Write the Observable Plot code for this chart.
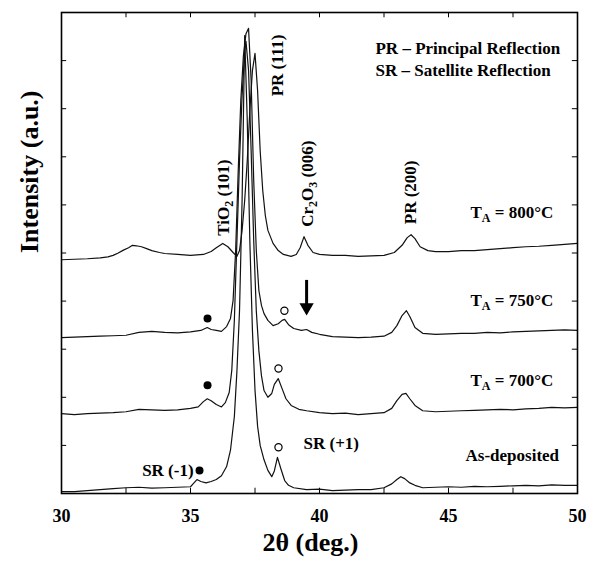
<!DOCTYPE html>
<html>
<head>
<meta charset="utf-8">
<script src="https://cdn.jsdelivr.net/npm/d3@7"></script>
<script src="https://cdn.jsdelivr.net/npm/@observablehq/plot@0.6"></script>
<style>
  body { margin: 0; background: #fff; }
  #chart svg { display: block; }
</style>
</head>
<body>
<div id="chart"></div>
<script>
// ---- data (2θ in degrees, intensity in arbitrary units) ----
const asDep2theta = [30.0,30.5,31.0,31.5,32.0,32.5,33.0,33.5,34.0,34.5,35.0,35.1,35.25,35.4,35.6,35.8,36.0,36.2,36.4,36.55,36.7,36.8,36.9,37.0,37.1,37.2,37.3,37.4,37.5,37.6,37.7,37.85,38.0,38.15,38.25,38.37,38.5,38.65,38.8,39.0,39.5,40.0,40.5,41.0,41.5,42.0,42.5,42.8,43.0,43.15,43.3,43.5,43.7,44.0,44.5,45.0,45.5,46.0,46.5,47.0,47.5,48.0,48.5,49.0,49.5,50.0];
const asDepI = [0.04,0.04,0.06,0.08,0.10,0.12,0.13,0.11,0.12,0.13,0.14,0.20,0.29,0.25,0.22,0.25,0.29,0.37,0.56,0.90,1.60,2.55,3.80,6.10,9.52,7.75,5.25,3.40,2.15,1.40,1.00,0.70,0.48,0.35,0.47,0.75,0.52,0.27,0.17,0.12,0.08,0.09,0.06,0.07,0.08,0.08,0.12,0.20,0.29,0.35,0.31,0.22,0.17,0.12,0.13,0.14,0.13,0.15,0.14,0.15,0.16,0.17,0.16,0.18,0.17,0.17];

const t700_2theta = [30.0,30.5,31.0,31.5,32.0,32.5,33.0,33.5,34.0,34.5,35.0,35.3,35.5,35.65,35.8,36.0,36.2,36.35,36.5,36.6,36.7,36.8,36.9,37.0,37.1,37.15,37.25,37.35,37.45,37.55,37.65,37.75,37.85,38.0,38.15,38.25,38.4,38.55,38.7,38.9,39.2,39.5,40.0,40.5,41.0,41.5,42.0,42.5,42.8,43.0,43.2,43.35,43.5,43.7,44.0,44.5,45.0,45.5,46.0,46.5,47.0,47.5,48.0,48.5,49.0,49.5,50.0];
const t700I = [1.66,1.64,1.66,1.67,1.68,1.70,1.75,1.74,1.73,1.74,1.77,1.80,1.91,1.97,1.93,1.85,1.80,1.89,2.10,2.56,3.60,5.26,6.92,8.27,9.20,9.40,8.80,7.13,5.26,3.80,2.97,2.45,2.14,2.00,2.08,2.27,2.39,2.18,1.97,1.83,1.75,1.72,1.68,1.66,1.67,1.64,1.66,1.68,1.77,1.93,2.06,2.08,1.97,1.83,1.72,1.70,1.71,1.72,1.73,1.74,1.75,1.74,1.76,1.77,1.79,1.78,1.79];

const t750_2theta = [30.0,30.5,31.0,31.5,32.0,32.5,33.0,33.5,34.0,34.5,35.0,35.4,35.65,35.8,36.0,36.2,36.4,36.55,36.65,36.75,36.85,36.95,37.05,37.15,37.25,37.35,37.45,37.55,37.65,37.75,37.85,38.0,38.2,38.4,38.55,38.65,38.8,39.0,39.3,39.5,39.7,40.0,40.5,41.0,41.5,42.0,42.5,42.8,43.0,43.2,43.37,43.5,43.7,44.0,44.5,45.0,45.5,46.0,46.5,47.0,47.5,48.0,48.5,49.0,49.5,50.0];
const t750I = [3.24,3.25,3.26,3.27,3.28,3.29,3.35,3.37,3.35,3.34,3.36,3.39,3.45,3.41,3.39,3.37,3.47,3.64,4.01,5.05,6.72,8.17,9.10,9.56,9.67,8.59,6.51,5.05,4.22,3.91,3.74,3.60,3.49,3.53,3.60,3.62,3.51,3.43,3.39,3.41,3.35,3.31,3.26,3.25,3.24,3.25,3.27,3.35,3.49,3.70,3.80,3.68,3.45,3.33,3.31,3.32,3.33,3.33,3.35,3.34,3.36,3.37,3.38,3.39,3.40,3.39];

const t800_2theta = [30.0,30.5,31.0,31.5,31.8,32.0,32.2,32.4,32.6,32.75,32.9,33.1,33.3,33.5,33.8,34.0,34.5,35.0,35.5,35.8,36.0,36.25,36.45,36.65,36.8,36.9,37.0,37.1,37.2,37.3,37.4,37.5,37.6,37.7,37.8,37.9,38.0,38.2,38.4,38.6,38.9,39.1,39.25,39.4,39.55,39.75,40.0,40.5,41.0,41.5,42.0,42.5,42.9,43.2,43.4,43.55,43.7,43.9,44.2,44.5,45.0,45.5,46.0,46.5,47.0,47.5,48.0,48.5,49.0,49.5,50.0];
const t800I = [4.86,4.87,4.88,4.90,4.92,4.95,5.00,5.06,5.11,5.16,5.15,5.13,5.09,5.05,5.01,4.99,4.97,4.95,4.97,5.03,5.11,5.20,5.13,5.01,4.93,5.05,5.47,6.09,6.92,7.96,8.79,9.15,8.38,7.13,6.30,5.78,5.47,5.20,5.05,4.97,4.93,4.97,5.11,5.34,5.16,5.01,4.97,4.95,4.95,4.93,4.94,4.95,5.01,5.16,5.32,5.38,5.30,5.13,5.05,5.03,5.03,5.05,5.05,5.07,5.09,5.11,5.13,5.14,5.16,5.18,5.20];

// axis ticks and labels
const xTickLabels = [30, 35, 40, 45, 50];
const xTicks = [32.5, 35, 37.5, 40, 42.5, 45, 47.5];
const yTicks = [1, 2, 3, 4, 5, 6, 7, 8, 9];

// markers (satellite reflections)
const filledMarkX = [35.66, 35.66, 35.35];
const filledMarkY = [3.64, 2.25, 0.48];
const openMarkX = [38.64, 38.41, 38.41];
const openMarkY = [3.80, 2.60, 0.96];

// annotation texts
const legendLines = ["PR \u2013 Principal Reflection", "SR \u2013 Satellite Reflection"];
const peakLabels = ["PR (111)", "TiO_2 (101)", "Cr_2O_3 (006)", "PR (200)"];
const sampleLabels = ["T_A = 800\u00b0C", "T_A = 750\u00b0C", "T_A = 700\u00b0C", "As-deposited"];

// ---- build tables ----
const toRows = (xs, ys, s) => xs.map((x, i) => ({x, y: ys[i], s}));
const traces = [
  ...toRows(asDep2theta, asDepI, "As-deposited"),
  ...toRows(t700_2theta, t700I, "700"),
  ...toRows(t750_2theta, t750I, "750"),
  ...toRows(t800_2theta, t800I, "800")
];
const filled = filledMarkX.map((x, i) => ({x, y: filledMarkY[i]}));
const open = openMarkX.map((x, i) => ({x, y: openMarkY[i]}));

const legendRows = [
  {text: legendLines[0], x: 42.17, y: 9.25},
  {text: legendLines[1], x: 42.17, y: 8.79}
];
const rotatedRows = [
  {text: peakLabels[0], x: 38.37, y: 8.90},
  {text: peakLabels[1], x: 36.28, y: 6.15},
  {text: peakLabels[2], x: 39.55, y: 6.44},
  {text: peakLabels[3], x: 43.53, y: 6.26}
];
const sampleRows = [
  {text: sampleLabels[0], x: 45.85, y: 5.84},
  {text: sampleLabels[1], x: 45.85, y: 4.01},
  {text: sampleLabels[2], x: 45.85, y: 2.35},
  {text: sampleLabels[3], x: 45.66, y: 0.79},
  {text: "SR (+1)", x: 39.38, y: 1.04}
];
const srMinus = [{text: "SR (-1)", x: 35.12, y: 0.48}];

const font = "'Liberation Serif', 'Times New Roman', serif";
const tk = 0.11, tkx = 0.2;

const chart = Plot.plot({
  width: 594,
  height: 563,
  marginLeft: 61,
  marginRight: 17,
  marginTop: 12,
  marginBottom: 70,
  style: {fontFamily: font, background: "#fff", color: "#000"},
  x: {domain: [30, 50], axis: null},
  y: {domain: [0, 10], axis: null},
  marks: [
    // inward ticks
    Plot.ruleX(xTicks, {x: d => d, y1: 0, y2: tk, stroke: "#000", strokeWidth: 1}),
    Plot.ruleX(xTicks, {x: d => d, y1: 10 - tk, y2: 10, stroke: "#000", strokeWidth: 1}),
    Plot.ruleY(yTicks, {y: d => d, x1: 30, x2: 30 + tkx, stroke: "#000", strokeWidth: 1}),
    Plot.ruleY(yTicks, {y: d => d, x1: 50 - tkx, x2: 50, stroke: "#000", strokeWidth: 1}),
    // traces
    Plot.line(traces, {x: "x", y: "y", z: "s", stroke: "#111", strokeWidth: 1.2, curve: "linear"}),
    // frame
    Plot.frame({stroke: "#000", strokeWidth: 1.6}),
    // tick labels
    Plot.text(xTickLabels, {x: d => d, frameAnchor: "bottom", dy: 28, text: d => String(d), fontSize: 18, fontWeight: "bold"}),
    // axis labels
    Plot.text(["2\u03b8 (deg.)"], {x: () => 39.65, frameAnchor: "bottom", dy: 57, text: d => d, fontSize: 26, fontWeight: "bold"}),
    Plot.text(["Intensity (a.u.)"], {y: () => 5.0, frameAnchor: "left", dx: -32, rotate: -90, text: d => d, fontSize: 26, fontWeight: "bold"}),
    // markers
    Plot.dot(filled, {x: "x", y: "y", r: 4, fill: "#000", stroke: "none"}),
    Plot.dot(open, {x: "x", y: "y", r: 3.6, fill: "#fff", stroke: "#000", strokeWidth: 1.2}),
    // arrow (shaft + head)
    Plot.ruleX([39.5], {x: d => d, y1: 4.43, y2: 3.92, stroke: "#000", strokeWidth: 3}),
    Plot.dot([39.5], {x: d => d, y: 3.87, symbol: "triangle", rotate: 180, r: 5.3, fill: "#000", stroke: "none"}),
    // annotations
    Plot.text(legendRows, {x: "x", y: "y", text: "text", textAnchor: "start", fontSize: 17, fontWeight: "bold"}),
    Plot.text(rotatedRows, {x: "x", y: "y", text: "text", rotate: -90, textAnchor: "middle", fontSize: 17, fontWeight: "bold"}),
    Plot.text(sampleRows, {x: "x", y: "y", text: "text", textAnchor: "start", fontSize: 17, fontWeight: "bold"}),
    Plot.text(srMinus, {x: "x", y: "y", text: "text", textAnchor: "end", fontSize: 17, fontWeight: "bold"})
  ]
});

document.getElementById("chart").appendChild(chart);

// convert "_X" markers into real subscripts
d3.select(chart).selectAll("text").each(function () {
  const t = this.textContent;
  if (!t.includes("_")) return;
  const sel = d3.select(this);
  sel.selectAll("*").remove();
  this.textContent = "";
  const parts = t.split(/_(\w)/);
  let shifted = false;
  parts.forEach((p, i) => {
    if (!p) return;
    const span = sel.append("tspan").text(p);
    if (i % 2 === 1) {
      span.attr("dy", 4).attr("font-size", 12);
      shifted = true;
    } else if (shifted) {
      span.attr("dy", -4);
      shifted = false;
    }
  });
});
</script>
</body>
</html>
